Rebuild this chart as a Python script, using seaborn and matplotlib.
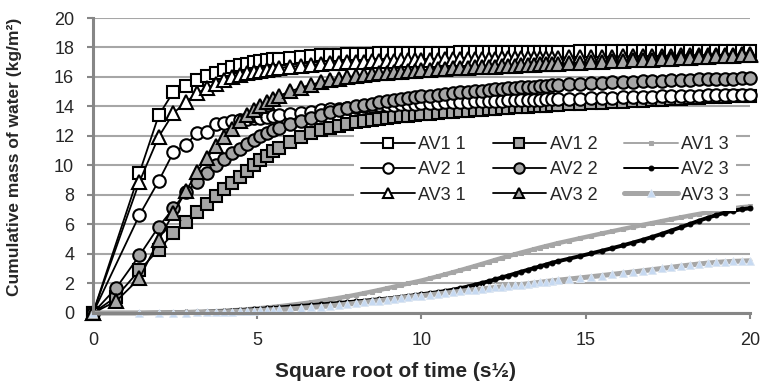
import numpy as np
import matplotlib
matplotlib.use("Agg")
import matplotlib.pyplot as plt
import seaborn as sns

# time in seconds, x axis is the square root
time_main = [0, 2, 4, 6, 8, 10, 12, 14, 16, 18, 20, 22, 24, 26, 28, 30, 32,
             36, 40, 44, 48, 52, 56, 60, 64, 68, 72, 76, 80, 84, 88, 92, 96, 100,
             105, 110, 115, 120, 125, 130, 135, 140, 145, 150, 155, 160, 165, 170, 175, 180, 185, 190, 195, 200,
             210, 220, 230, 240, 250, 260, 270, 280, 290, 300, 310, 320, 330, 340, 350, 360, 370, 380, 390, 400]
# the grey-marker samples have one extra early reading
time_grey = [0, 0.5] + time_main[1:]

av1_1 = [0, 9.5, 13.4, 15.0, 15.4, 15.8, 16.07, 16.3, 16.5, 16.65, 16.8, 16.9, 17.0, 17.08, 17.15, 17.2, 17.25,
         17.32, 17.38, 17.42, 17.46, 17.49, 17.52, 17.54, 17.56, 17.58, 17.59, 17.6, 17.61, 17.62, 17.63, 17.63, 17.64, 17.64,
         17.65, 17.65, 17.66, 17.66, 17.67, 17.67, 17.68, 17.68, 17.68, 17.69, 17.69, 17.69, 17.7, 17.7, 17.7, 17.71, 17.71, 17.71, 17.72, 17.72,
         17.72, 17.73, 17.73, 17.73, 17.74, 17.74, 17.74, 17.75, 17.75, 17.75, 17.75, 17.76, 17.76, 17.76, 17.76, 17.77, 17.77, 17.77, 17.77, 17.78]
av1_2 = [0, 1.1, 2.9, 4.3, 5.4, 6.2, 6.85, 7.4, 7.9, 8.4, 8.8, 9.2, 9.6, 10.0, 10.35, 10.65, 10.95, 11.2,
         11.6, 11.95, 12.2, 12.4, 12.55, 12.7, 12.82, 12.92, 13.0, 13.08, 13.15, 13.22, 13.28, 13.33, 13.38, 13.43, 13.47,
         13.52, 13.57, 13.61, 13.65, 13.69, 13.72, 13.76, 13.79, 13.82, 13.85, 13.88, 13.91, 13.94, 13.96, 13.99, 14.01, 14.04, 14.06, 14.08, 14.1,
         14.14, 14.18, 14.22, 14.26, 14.3, 14.33, 14.36, 14.4, 14.43, 14.46, 14.49, 14.52, 14.55, 14.58, 14.61, 14.64, 14.66, 14.69, 14.71, 14.73]
av1_3 = [0, 0.0, 0.02, 0.04, 0.06, 0.08, 0.1, 0.12, 0.15, 0.18, 0.21, 0.25, 0.29, 0.33, 0.37, 0.41, 0.45,
         0.54, 0.63, 0.72, 0.82, 0.92, 1.02, 1.12, 1.23, 1.34, 1.45, 1.56, 1.67, 1.78, 1.89, 2.0, 2.1, 2.2,
         2.34, 2.48, 2.62, 2.76, 2.9, 3.04, 3.18, 3.32, 3.46, 3.6, 3.73, 3.86, 3.98, 4.1, 4.21, 4.32, 4.43, 4.53, 4.63, 4.73,
         4.9, 5.07, 5.23, 5.39, 5.54, 5.69, 5.83, 5.97, 6.1, 6.23, 6.36, 6.48, 6.6, 6.71, 6.82, 6.92, 7.02, 7.1, 7.17, 7.22]
av2_1 = [0, 6.64, 8.95, 10.9, 11.4, 12.2, 12.3, 12.8, 12.9, 13.0, 13.1, 13.15, 13.2, 13.25, 13.3, 13.35, 13.4,
         13.5, 13.58, 13.66, 13.73, 13.8, 13.86, 13.91, 13.96, 14.0, 14.04, 14.07, 14.1, 14.13, 14.16, 14.18, 14.2, 14.22,
         14.24, 14.26, 14.28, 14.3, 14.31, 14.33, 14.34, 14.36, 14.37, 14.38, 14.4, 14.41, 14.42, 14.43, 14.44, 14.46, 14.47, 14.48, 14.49, 14.5,
         14.52, 14.54, 14.56, 14.58, 14.6, 14.62, 14.63, 14.65, 14.67, 14.68, 14.7, 14.71, 14.73, 14.74, 14.75, 14.77, 14.78, 14.79, 14.8, 14.8]
av2_2 = [0, 1.7, 3.9, 5.85, 7.1, 8.2, 8.9, 9.5, 10.0, 10.45, 10.85, 11.15, 11.45, 11.75, 12.0, 12.2, 12.4, 12.55,
         12.8, 13.05, 13.25, 13.45, 13.6, 13.75, 13.88, 14.0, 14.1, 14.2, 14.28, 14.36, 14.43, 14.5, 14.56, 14.62, 14.68,
         14.74, 14.8, 14.85, 14.9, 14.95, 15.0, 15.04, 15.08, 15.12, 15.16, 15.2, 15.23, 15.26, 15.29, 15.32, 15.35, 15.38, 15.41, 15.44, 15.47,
         15.5, 15.54, 15.57, 15.6, 15.63, 15.66, 15.69, 15.72, 15.74, 15.76, 15.78, 15.8, 15.82, 15.84, 15.85, 15.87, 15.88, 15.89, 15.9, 15.9]
av2_3 = [0, 0.0, 0.01, 0.02, 0.04, 0.06, 0.08, 0.1, 0.13, 0.16, 0.19, 0.22, 0.25, 0.28, 0.31, 0.34, 0.37,
         0.43, 0.48, 0.53, 0.58, 0.63, 0.68, 0.73, 0.78, 0.83, 0.88, 0.93, 0.98, 1.03, 1.09, 1.15, 1.21, 1.27,
         1.34, 1.41, 1.49, 1.58, 1.68, 1.79, 1.91, 2.03, 2.15, 2.28, 2.41, 2.54, 2.67, 2.8, 2.92, 3.04, 3.16, 3.28, 3.4, 3.5,
         3.68, 3.86, 4.04, 4.22, 4.4, 4.58, 4.77, 4.96, 5.16, 5.37, 5.59, 5.81, 6.03, 6.25, 6.45, 6.64, 6.8, 6.93, 7.03, 7.1]
av3_1 = [0, 8.9, 11.95, 13.55, 14.3, 14.9, 15.25, 15.55, 15.8, 15.98, 16.12, 16.24, 16.34, 16.42, 16.5, 16.56, 16.62,
         16.7, 16.77, 16.83, 16.88, 16.92, 16.96, 16.99, 17.02, 17.04, 17.06, 17.08, 17.1, 17.11, 17.13, 17.14, 17.15, 17.16,
         17.17, 17.18, 17.19, 17.2, 17.21, 17.22, 17.23, 17.24, 17.25, 17.25, 17.26, 17.27, 17.28, 17.28, 17.29, 17.3, 17.3, 17.31, 17.32, 17.32,
         17.33, 17.35, 17.36, 17.37, 17.38, 17.4, 17.41, 17.42, 17.43, 17.44, 17.45, 17.46, 17.47, 17.48, 17.49, 17.5, 17.51, 17.52, 17.53, 17.54]
av3_2 = [0, 0.8, 2.35, 4.95, 6.78, 8.25, 9.55, 10.5, 11.3, 11.95, 12.5, 13.0, 13.4, 13.75, 14.05, 14.3, 14.52, 14.72,
         15.02, 15.28, 15.48, 15.64, 15.78, 15.89, 15.98, 16.06, 16.13, 16.19, 16.24, 16.29, 16.33, 16.37, 16.41, 16.44, 16.47,
         16.5, 16.53, 16.56, 16.58, 16.61, 16.63, 16.65, 16.67, 16.69, 16.71, 16.73, 16.75, 16.77, 16.79, 16.81, 16.83, 16.85, 16.87, 16.89, 16.91,
         16.94, 16.97, 17.0, 17.03, 17.06, 17.09, 17.12, 17.15, 17.18, 17.21, 17.24, 17.27, 17.3, 17.33, 17.36, 17.39, 17.42, 17.45, 17.48, 17.5]
av3_3 = [0, 0.0, 0.01, 0.02, 0.03, 0.04, 0.05, 0.06, 0.08, 0.1, 0.12, 0.14, 0.16, 0.18, 0.2, 0.22, 0.24,
         0.28, 0.33, 0.38, 0.43, 0.48, 0.54, 0.6, 0.66, 0.72, 0.78, 0.84, 0.9, 0.96, 1.02, 1.07, 1.12, 1.17,
         1.23, 1.29, 1.35, 1.41, 1.47, 1.53, 1.58, 1.63, 1.68, 1.73, 1.78, 1.83, 1.88, 1.93, 1.98, 2.03, 2.08, 2.13, 2.18, 2.22,
         2.3, 2.38, 2.46, 2.54, 2.62, 2.7, 2.78, 2.86, 2.94, 3.02, 3.1, 3.18, 3.25, 3.32, 3.38, 3.43, 3.47, 3.5, 3.52, 3.54]

# draw order as in the original (later ones on top)
series = [
    ("AV1 1", time_main, av1_1),
    ("AV1 2", time_grey, av1_2),
    ("AV1 3", time_main, av1_3),
    ("AV2 1", time_main, av2_1),
    ("AV2 2", time_grey, av2_2),
    ("AV2 3", time_main, av2_3),
    ("AV3 1", time_main, av3_1),
    ("AV3 2", time_grey, av3_2),
    ("AV3 3", time_main, av3_3),
]

grey = "#a6a6a6"
big = dict(color="black", markeredgecolor="black", markeredgewidth=1.5, linewidth=1.3)
styles = {
    "AV1 1": dict(big, marker="s", markerfacecolor="white", markersize=8.5),
    "AV1 2": dict(big, marker="s", markerfacecolor=grey, markersize=8.5),
    "AV1 3": dict(color=grey, marker="s", markerfacecolor=grey, markeredgecolor=grey, markersize=3.5, linewidth=3.2),
    "AV2 1": dict(big, marker="o", markerfacecolor="white", markersize=9),
    "AV2 2": dict(big, marker="o", markerfacecolor=grey, markersize=9),
    "AV2 3": dict(color="black", marker="o", markerfacecolor="black", markeredgecolor="black", markersize=3.5, linewidth=2.8),
    "AV3 1": dict(big, marker="^", markerfacecolor="white", markersize=9.5),
    "AV3 2": dict(big, marker="^", markerfacecolor=grey, markersize=9.5),
    "AV3 3": dict(color=grey, marker="^", markerfacecolor="#c6d9f1", markeredgecolor="#dce6f2",
                  markeredgewidth=0.6, markersize=5.5, linewidth=3.6),
}
# line widths shown in the legend keys
legend_lw = {"AV1 3": 1.4, "AV2 3": 1.4, "AV3 3": 3.6}

sns.set_style("white")
plt.rcParams['font.family'] = ['Liberation Sans', 'DejaVu Sans']

fig = plt.figure(figsize=(7.61, 3.83), dpi=100)
ax = fig.add_axes([0.1222, 0.1828, 0.8633, 0.7702])

for name, t, vals in series:
    sns.lineplot(x=np.sqrt(t), y=vals, ax=ax, label=name, estimator=None, sort=False,
                 clip_on=False, **styles[name])

ax.set_xlim(0, 20)
ax.set_ylim(0, 20)
ax.set_xticks([0, 5, 10, 15, 20])
ax.set_yticks(range(0, 21, 2))
ax.yaxis.grid(True, color=grey, linewidth=1.5)
ax.xaxis.grid(False)
ax.set_axisbelow(True)
for side in ["top", "right"]:
    ax.spines[side].set_visible(False)
for side in ["left", "bottom"]:
    ax.spines[side].set_color("#868686")
    ax.spines[side].set_linewidth(2.2)
ax.tick_params(axis="both", direction="out", length=4.5, width=1.5, color="#868686",
               labelsize=13, pad=9, bottom=True, left=True)

ax.set_xlabel("Square root of time (s½)", fontsize=15, fontweight="bold", va="center")
ax.set_ylabel("Cumulative mass of water (kg/m²)", fontsize=12.5, fontweight="bold", va="center")
ax.xaxis.set_label_coords(0.46, -0.2)
ax.yaxis.set_label_coords(-0.12, 0.53)

handles, labels = ax.get_legend_handles_labels()
order = [0, 3, 6, 1, 4, 7, 2, 5, 8]
leg = ax.legend([handles[i] for i in order], [labels[i] for i in order], ncol=3,
                loc="upper left", bbox_to_anchor=(0.3836, 0.654), frameon=True,
                facecolor="white", edgecolor="none", framealpha=1, fancybox=False,
                handlelength=2.95, handletextpad=0.2, columnspacing=1.5,
                labelspacing=0.45, borderpad=0.4, fontsize=13, numpoints=1)
for line, text in zip(leg.get_lines(), leg.get_texts()):
    name = text.get_text()
    if name in legend_lw:
        line.set_linewidth(legend_lw[name])
    else:
        line.set_markersize(7.5)

fig.savefig("out.png", dpi=100)
